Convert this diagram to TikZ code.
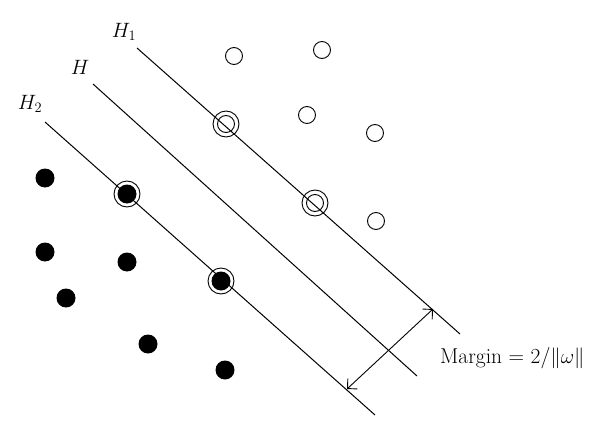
\documentclass[tikz,border=0pt]{standalone}
\usetikzlibrary{arrows.meta}
\begin{document}
\begin{tikzpicture}[x=1pt,y=-1pt,
  hline/.style={line width=1pt},
  opendot/.style={circle,draw,line width=0.9pt,minimum size=17pt,inner sep=0pt},
  fulldot/.style={circle,fill=black,minimum size=19pt,inner sep=0pt},
  ring/.style={circle,draw,line width=0.9pt,minimum size=26pt,inner sep=0pt},
  lbl/.style={font=\fontsize{20}{22}\selectfont}]
\useasboundingbox (0,0) rectangle (600,436);
\coordinate (a1) at (137,48); \coordinate (b1) at (460,334);
\coordinate (a0) at (93,84); \coordinate (b0) at (417,376);
\coordinate (a2) at (45,122); \coordinate (b2) at (375,415);
\draw[hline] (a1) -- (b1);
\draw[hline] (a0) -- (b0);
\draw[hline] (a2) -- (b2);
\node[lbl] (h1) at (124,32) {$H_1$};
\node[lbl] (h0) at (80,67) {$H$};
\node[lbl] (h2) at (30,104) {$H_2$};
\foreach \p in {(234,56),(322,50),(307,115),(375,133),(376,221),(226,124),(315,203)}
  \node[opendot] at \p {};
\foreach \p in {(226,124),(315,203),(127,194),(221,281)}
  \node[ring] at \p {};
\foreach \p in {(45,178),(45,252),(66,298),(127,262),(148,344),(225,370),(127,194),(221,281)}
  \node[fulldot] at \p {};
\coordinate (m1) at (433,309); \coordinate (m2) at (347,389);
\draw[line width=0.9pt,{Straight Barb[length=7pt]}-{Straight Barb[length=7pt]}] (m2) -- (m1);
\node[lbl,anchor=west,inner sep=0pt,font=\fontsize{21.5}{24}\selectfont] (mt) at (440,358) {Margin = 2/$\|\omega\|$};
\end{tikzpicture}
\end{document}
